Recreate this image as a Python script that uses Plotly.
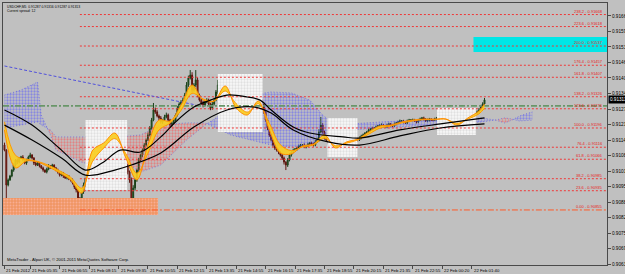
import plotly.graph_objects as go

# ---------------- data ----------------
header_line = "USDCHF,M5  0.91287 0.91316 0.91287 0.91313"
spread_line = "Current spread: 12"
credit_line = "MetaTrader - Alpari UK, \u00a9 2001-2011 MetaQuotes Software Corp."

first_open = 0.91125
closes = [
    0.91104, 0.90959, 0.90980, 0.90996, 0.91021, 0.91042, 0.91063, 0.91054, 0.91071, 0.91075,
    0.91063, 0.91050, 0.91063, 0.91075, 0.91084, 0.91071, 0.91050, 0.91042, 0.91050, 0.91038,
    0.91030, 0.91021, 0.91013, 0.91025, 0.91038, 0.91034, 0.91042, 0.91030, 0.91021, 0.91013,
    0.91000, 0.91009, 0.90996, 0.90988, 0.90996, 0.90984, 0.90980, 0.90967, 0.90950, 0.90938,
    0.90905, 0.90896, 0.90930, 0.90959, 0.90988, 0.91021, 0.91063, 0.91104, 0.91167, 0.91196,
    0.91146, 0.91159, 0.91167, 0.91138, 0.91104, 0.91125, 0.91146, 0.91167, 0.91188, 0.91208,
    0.91179, 0.91146, 0.91125, 0.91104, 0.91084, 0.91063, 0.91042, 0.91013, 0.90980, 0.90896,
    0.90946, 0.90980, 0.91021, 0.91063, 0.91084, 0.91104, 0.91125, 0.91146, 0.91167, 0.91196,
    0.91229, 0.91271, 0.91263, 0.91246, 0.91238, 0.91221, 0.91229, 0.91242, 0.91250, 0.91229,
    0.91208, 0.91217, 0.91229, 0.91250, 0.91279, 0.91296, 0.91304, 0.91312, 0.91333, 0.91375,
    0.91404, 0.91416, 0.91354, 0.91375, 0.91396, 0.91333, 0.91312, 0.91300, 0.91292, 0.91304,
    0.91312, 0.91296, 0.91279, 0.91296, 0.91312, 0.91346, 0.91375, 0.91354, 0.91333, 0.91362,
    0.91387, 0.91396, 0.91362, 0.91333, 0.91304, 0.91271, 0.91263, 0.91250, 0.91238, 0.91221,
    0.91250, 0.91271, 0.91250, 0.91229, 0.91263, 0.91292, 0.91312, 0.91321, 0.91325, 0.91312,
    0.91292, 0.91263, 0.91229, 0.91196, 0.91167, 0.91146, 0.91125, 0.91113, 0.91104, 0.91096,
    0.91084, 0.91071, 0.91054, 0.91042, 0.91063, 0.91084, 0.91096, 0.91104, 0.91109, 0.91113,
    0.91121, 0.91125, 0.91125, 0.91117, 0.91121, 0.91129, 0.91134, 0.91129, 0.91125, 0.91138,
    0.91146, 0.91179, 0.91208, 0.91179, 0.91154, 0.91146, 0.91134, 0.91125, 0.91113, 0.91104,
    0.91109, 0.91113, 0.91121, 0.91125, 0.91134, 0.91142, 0.91146, 0.91142, 0.91146, 0.91150,
    0.91154, 0.91150, 0.91146, 0.91154, 0.91163, 0.91167, 0.91175, 0.91179, 0.91188, 0.91192,
    0.91196, 0.91196, 0.91200, 0.91204, 0.91208, 0.91208, 0.91204, 0.91200, 0.91208, 0.91213,
    0.91208, 0.91204, 0.91213, 0.91217, 0.91221, 0.91225, 0.91225, 0.91221, 0.91217, 0.91225,
    0.91229, 0.91229, 0.91229, 0.91225, 0.91221, 0.91229, 0.91233, 0.91238, 0.91233, 0.91225,
    0.91229, 0.91233, 0.91229, 0.91229, 0.91233, 0.91238, 0.91242, 0.91246, 0.91250, 0.91238,
    0.91229, 0.91221, 0.91208, 0.91196, 0.91188, 0.91204, 0.91221, 0.91229, 0.91238, 0.91233,
    0.91229, 0.91238, 0.91242, 0.91246, 0.91250, 0.91254, 0.91258, 0.91263, 0.91271, 0.91283,
    0.91296, 0.91313,
]
# wick lengths in points (0.00001)
upper_wick_pts = [
    10, 4, 6, 5, 3, 7, 4, 6, 3, 5, 8, 4, 5, 6, 9, 3, 4, 6, 5, 3,
    4, 5, 3, 6, 8, 4, 5, 3, 4, 6, 3, 5, 4, 7, 5, 3, 4, 6, 3, 5,
    6, 3, 8, 10, 7, 9, 12, 8, 10, 25, 8, 12, 6, 5, 9, 10, 7, 6, 8, 13,
    6, 5, 8, 4, 6, 5, 7, 4, 6, 10, 12, 8, 6, 9, 5, 7, 8, 6, 10, 8,
    9, 29, 10, 7, 6, 8, 5, 9, 10, 6, 5, 7, 8, 6, 9, 7, 8, 10, 9, 12,
    10, 21, 12, 8, 41, 10, 6, 5, 9, 7, 8, 6, 5, 9, 10, 8, 21, 9, 6, 10,
    8, 20, 9, 6, 5, 7, 6, 8, 5, 4, 9, 8, 6, 5, 10, 8, 9, 7, 8, 6,
    5, 4, 6, 5, 4, 6, 5, 7, 4, 6, 5, 3, 6, 4, 8, 7, 5, 6, 4, 5,
    6, 5, 4, 7, 5, 6, 4, 5, 6, 8, 10, 12, 34, 8, 6, 5, 4, 6, 5, 7,
    5, 6, 4, 5, 7, 4, 5, 6, 4, 5, 6, 4, 5, 7, 5, 6, 4, 5, 6, 4,
    5, 4, 6, 5, 4, 7, 5, 4, 6, 5, 4, 5, 6, 4, 5, 6, 4, 5, 4, 6,
    5, 4, 6, 5, 4, 5, 6, 4, 5, 4, 6, 5, 4, 5, 6, 4, 5, 6, 8, 5,
    4, 5, 4, 6, 5, 6, 5, 7, 6, 4, 5, 6, 5, 4, 6, 5, 7, 6, 8, 9,
    7, 8,
]
lower_wick_pts = [
    5, 92, 6, 4, 5, 7, 6, 8, 5, 4, 6, 5, 7, 4, 5, 6, 8, 5, 4, 6,
    5, 7, 4, 6, 5, 8, 4, 6, 5, 7, 6, 5, 8, 4, 6, 5, 7, 6, 8, 10,
    12, 41, 10, 8, 9, 7, 10, 6, 8, 5, 9, 7, 6, 10, 8, 6, 5, 7, 6, 5,
    7, 6, 8, 10, 7, 9, 8, 10, 12, 49, 15, 10, 8, 7, 6, 9, 5, 6, 4, 6,
    7, 5, 8, 6, 9, 7, 8, 5, 6, 10, 8, 6, 7, 5, 6, 8, 5, 7, 6, 5,
    8, 6, 10, 7, 8, 9, 6, 8, 10, 7, 5, 8, 9, 7, 6, 5, 8, 6, 7, 5,
    6, 8, 7, 9, 10, 8, 6, 9, 8, 21, 7, 6, 9, 8, 5, 7, 6, 5, 8, 7,
    6, 8, 7, 9, 8, 6, 7, 8, 6, 9, 7, 8, 10, 21, 8, 6, 7, 5, 6, 7,
    5, 6, 7, 5, 6, 4, 7, 5, 6, 5, 4, 6, 5, 7, 6, 5, 7, 6, 5, 6,
    4, 5, 6, 5, 4, 6, 5, 4, 6, 5, 4, 5, 6, 4, 5, 6, 4, 5, 4, 6,
    5, 4, 6, 5, 4, 5, 6, 4, 5, 4, 6, 5, 4, 6, 5, 4, 5, 6, 4, 5,
    4, 6, 5, 4, 6, 5, 4, 5, 6, 4, 5, 6, 4, 5, 4, 6, 5, 4, 6, 5,
    6, 5, 7, 8, 21, 9, 6, 5, 4, 6, 5, 4, 5, 6, 4, 5, 4, 6, 5, 4,
    5, 4,
]

# fast / mid averages forming the yellow ribbon (sampled every 6 bars)
ribbon_bars = [0, 6, 12, 18, 24, 30, 36, 42, 48, 54, 60, 66, 72, 78, 84, 90, 96, 102, 108, 114,
               120, 126, 132, 138, 144, 150, 156, 162, 168, 174, 180, 186, 192, 198, 204, 210,
               216, 222, 228, 234, 240, 246, 252, 258, 261]
ribbon_fast = [0.91188, 0.91030, 0.91059, 0.91054, 0.91034, 0.91009, 0.90980, 0.90925, 0.91104, 0.91134,
               0.91175, 0.91071, 0.90980, 0.91125, 0.91229, 0.91225, 0.91292, 0.91375, 0.91312, 0.91308,
               0.91371, 0.91279, 0.91250, 0.91308, 0.91188, 0.91092, 0.91088, 0.91121, 0.91129, 0.91167,
               0.91113, 0.91138, 0.91150, 0.91179, 0.91204, 0.91208, 0.91221, 0.91229, 0.91233, 0.91233,
               0.91233, 0.91208, 0.91238, 0.91267, 0.91296]
ribbon_mid = [0.91222, 0.91082, 0.91066, 0.91057, 0.91041, 0.91018, 0.90991, 0.90946, 0.91058, 0.91113,
              0.91152, 0.91089, 0.91008, 0.91091, 0.91188, 0.91216, 0.91269, 0.91340, 0.91317, 0.91308,
              0.91350, 0.91297, 0.91262, 0.91297, 0.91216, 0.91126, 0.91102, 0.91117, 0.91125, 0.91153,
              0.91122, 0.91133, 0.91146, 0.91170, 0.91195, 0.91204, 0.91217, 0.91225, 0.91231, 0.91231,
              0.91233, 0.91215, 0.91233, 0.91255, 0.91278]

# two black moving averages
ma1_bars = [0, 15, 31, 44, 53, 63, 74, 85, 93, 103, 112, 121, 132, 139, 145, 157, 166, 184, 193, 215, 237, 261]
ma1_vals = [0.91271, 0.91208, 0.91104, 0.91021, 0.91050, 0.91104, 0.91096, 0.91159, 0.91221, 0.91283, 0.91312,
            0.91333, 0.91325, 0.91312, 0.91271, 0.91200, 0.91175, 0.91159, 0.91154, 0.91188, 0.91213, 0.91238]
ma2_bars = [0, 15, 31, 44, 60, 69, 85, 103, 121, 136, 145, 157, 176, 193, 215, 237, 261]
ma2_vals = [0.91208, 0.91146, 0.91071, 0.91000, 0.91021, 0.91042, 0.91092, 0.91200, 0.91271, 0.91283, 0.91258,
            0.91188, 0.91138, 0.91125, 0.91163, 0.91196, 0.91213]

# Ichimoku cloud spans (projected forward past the last bar)
cloud_bars = [0, 9, 18, 20, 25, 28, 43, 53, 63, 74, 85, 99, 109, 115, 123, 134, 145, 156, 166, 173,
              180, 188, 204, 226, 242, 259, 267, 272, 276, 280, 287]
span_a = [0.91333, 0.91354, 0.91387, 0.91250, 0.91167, 0.91104, 0.91050, 0.91063, 0.91063, 0.91013,
          0.91042, 0.91146, 0.91208, 0.91238, 0.91292, 0.91333, 0.91346, 0.91342, 0.91312, 0.91250,
          0.91208, 0.91213, 0.91221, 0.91229, 0.91238, 0.91238, 0.91229, 0.91217, 0.91229, 0.91246, 0.91263]
span_b = [0.91196, 0.91208, 0.91221, 0.91208, 0.91188, 0.91159, 0.91159, 0.91159, 0.91159, 0.91167,
          0.91208, 0.91217, 0.91217, 0.91196, 0.91167, 0.91146, 0.91125, 0.91117, 0.91125, 0.91154,
          0.91179, 0.91188, 0.91196, 0.91204, 0.91213, 0.91221, 0.91229, 0.91238, 0.91233, 0.91225, 0.91229]

# Fibonacci retracement
fib_start_bar = 41
fib_pcts = ["0.00", "23.6", "38.2", "61.8", "76.4", "100.0", "123.6", "138.2", "161.8", "176.4", "200.0", "223.6", "238.2"]
fib_prices = [0.90855, 0.90935, 0.90985, 0.91066, 0.91116, 0.91196, 0.91276, 0.91326, 0.91407, 0.91457,
              0.91537, 0.91618, 0.91668]

# other chart objects: (start bar, end bar, low price, high price)
session_boxes = [(44, 66.7, 0.90938, 0.91229), (116, 140.4, 0.91179, 0.91421),
                 (175.6, 191.9, 0.91075, 0.91238), (235.2, 256.4, 0.91167, 0.91279)]
orange_box = (-1, 83.5, 0.90834, 0.90905)
cyan_box = (255, 330, 0.91512, 0.91575)
green_level = 0.91288
trend_bars = [0, 104]
trend_prices = [0.91454, 0.91292]

time_tick_bars = [0, 14, 30, 46, 62, 78, 94, 110, 126, 142, 158, 174, 190, 206, 222, 238, 254]
time_tick_labels = ["21 Feb 2012", "21 Feb 05:35", "21 Feb 06:55", "21 Feb 08:15", "21 Feb 09:35",
                    "21 Feb 10:55", "21 Feb 12:15", "21 Feb 13:35", "21 Feb 14:55", "21 Feb 16:15",
                    "21 Feb 17:35", "21 Feb 18:55", "21 Feb 20:15", "21 Feb 21:35", "21 Feb 22:55",
                    "22 Feb 00:20", "22 Feb 01:40"]
price_tick_values = [0.90630, 0.90695, 0.90759, 0.90824, 0.90888, 0.90953, 0.91017, 0.91082, 0.91146,
                     0.91211, 0.91275, 0.91340, 0.91404, 0.91469, 0.91533, 0.91598, 0.91662]

X_RANGE = [-0.8, 327.6]
Y_RANGE = [0.90626, 0.91716]

# ---------------- derived ----------------
opens = [first_open] + closes[:-1]
PT = 0.00001
highs = [max(o, c) + w * PT for o, c, w in zip(opens, closes, upper_wick_pts)]
lows = [min(o, c) - w * PT for o, c, w in zip(opens, closes, lower_wick_pts)]
bars = list(range(len(closes)))

FONT = "Liberation Sans, Arial, sans-serif"
BG = "#c0c0c0"
fig = go.Figure()


def box(b, **kw):
    b0, b1, p0, p1 = b
    return go.Scatter(x=[b0, b1, b1, b0, b0], y=[p0, p0, p1, p1, p0], mode="lines", fill="toself",
                      line=dict(width=0), hoverinfo="skip", showlegend=False, **kw)


fig.add_trace(box(orange_box, fillcolor="rgb(240,150,100)",
                  fillpattern=dict(shape=".", fgcolor="rgb(255,196,196)", bgcolor="rgb(240,150,100)",
                                   size=3, solidity=0.3)))

# cloud segments, split where the spans cross
segs = []
cur = None
for k in range(len(cloud_bars)):
    up = span_a[k] >= span_b[k]
    if cur is None:
        cur = [up, [cloud_bars[k]], [span_a[k]], [span_b[k]]]
        continue
    if up != cur[0]:
        d0 = span_a[k - 1] - span_b[k - 1]
        d1 = span_a[k] - span_b[k]
        t = d0 / (d0 - d1)
        xc = cloud_bars[k - 1] + t * (cloud_bars[k] - cloud_bars[k - 1])
        yc = span_a[k - 1] + t * (span_a[k] - span_a[k - 1])
        cur[1].append(xc); cur[2].append(yc); cur[3].append(yc)
        segs.append(cur)
        cur = [up, [xc, cloud_bars[k]], [yc, span_a[k]], [yc, span_b[k]]]
    else:
        cur[1].append(cloud_bars[k]); cur[2].append(span_a[k]); cur[3].append(span_b[k])
segs.append(cur)
for up, xs, a, b in segs:
    col = "rgb(80,80,255)" if up else "rgb(255,70,70)"
    fig.add_trace(go.Scatter(x=xs + xs[::-1], y=a + b[::-1], mode="lines", fill="toself",
                             line=dict(width=0), hoverinfo="skip", showlegend=False,
                             fillpattern=dict(shape=".", fgcolor=col, bgcolor="rgba(0,0,0,0)",
                                              size=3, solidity=0.45)))
for span in (span_a, span_b):
    fig.add_trace(go.Scatter(x=cloud_bars, y=span, mode="lines",
                             line=dict(color="rgba(80,80,235,0.6)", width=1, dash="1px,2px"),
                             hoverinfo="skip", showlegend=False))

for sb in session_boxes:
    fig.add_trace(box(sb, fillcolor="rgb(240,240,240)",
                      fillpattern=dict(shape=".", fgcolor="rgb(200,200,200)", bgcolor="rgb(248,248,248)",
                                       size=3, solidity=0.45)))

fig.add_trace(box(cyan_box, fillcolor="#00e6e6"))

# fibonacci lines
for pct, lvl in zip(fib_pcts, fib_prices):
    zero = pct == "0.00"
    fig.add_trace(go.Scatter(x=[fib_start_bar, X_RANGE[1]], y=[lvl, lvl], mode="lines",
                             line=dict(color="#ff5a28" if zero else "rgb(240,55,55)", width=1,
                                       dash="6px,2px,2px,2px" if zero else "2px,2px"),
                             hoverinfo="skip", showlegend=False))
    fig.add_annotation(xref="paper", x=1, xanchor="right", xshift=-2, y=lvl, yanchor="bottom", yshift=-1,
                       text=f"{pct} - {lvl:.5f}", showarrow=False,
                       font=dict(family=FONT, size=4.0, color="#e82020"))

# green horizontal line and blue trend line
fig.add_trace(go.Scatter(x=[X_RANGE[0], X_RANGE[1]], y=[green_level, green_level], mode="lines",
                         line=dict(color="rgb(105,150,105)", width=1.6, dash="6px,2px,2px,2px"),
                         hoverinfo="skip", showlegend=False))
fig.add_trace(go.Scatter(x=trend_bars, y=trend_prices, mode="lines",
                         line=dict(color="rgb(80,80,220)", width=1, dash="3px,2px"),
                         hoverinfo="skip", showlegend=False))

# yellow ribbon
fig.add_trace(go.Scatter(x=ribbon_bars, y=ribbon_mid, mode="lines", line=dict(color="#ff9a00", width=1, shape="spline"),
                         hoverinfo="skip", showlegend=False))
fig.add_trace(go.Scatter(x=ribbon_bars, y=ribbon_fast, mode="lines", fill="tonexty", fillcolor="rgba(250,205,30,0.9)",
                         line=dict(color="#ff8c00", width=1, shape="spline"), hoverinfo="skip", showlegend=False))

# candles
fig.add_trace(go.Candlestick(x=bars, open=opens, high=highs, low=lows, close=closes,
                             increasing=dict(line=dict(color="#1a401a", width=1), fillcolor="#2f7a2f"),
                             decreasing=dict(line=dict(color="#5e160f", width=1), fillcolor="#b02a20"),
                             whiskerwidth=0, hoverinfo="skip", showlegend=False))

# black moving averages
fig.add_trace(go.Scatter(x=ma1_bars, y=ma1_vals, mode="lines", line=dict(color="black", width=1.2, shape="spline"),
                         hoverinfo="skip", showlegend=False))
fig.add_trace(go.Scatter(x=ma2_bars, y=ma2_vals, mode="lines", line=dict(color="black", width=1.2, shape="spline"),
                         hoverinfo="skip", showlegend=False))

# texts
fig.add_annotation(xref="paper", yref="paper", x=0, y=1, xanchor="left", yanchor="top", xshift=2, yshift=0,
                   text=header_line, showarrow=False, font=dict(family=FONT, size=3.4, color="black"))
fig.add_annotation(xref="paper", yref="paper", x=0, y=1, xanchor="left", yanchor="top", xshift=2, yshift=-4,
                   text=spread_line, showarrow=False, font=dict(family=FONT, size=3.4, color="black"))
fig.add_annotation(xref="paper", yref="paper", x=0, y=0, xanchor="left", yanchor="bottom", xshift=2, yshift=1,
                   text=credit_line, showarrow=False, font=dict(family=FONT, size=4.2, color="black"))
for b, lab in zip(time_tick_bars, time_tick_labels):
    fig.add_annotation(x=b, xref="x", yref="paper", y=0, xanchor="left", yanchor="top", xshift=0, yshift=-1,
                       text=lab, showarrow=False, font=dict(family=FONT, size=4.3, color="black"))
fig.add_annotation(xref="paper", x=1, xanchor="left", xshift=1, y=closes[-1], yref="y",
                   text=f"{closes[-1]:.5f}", showarrow=False, bgcolor="black", borderpad=1,
                   font=dict(family=FONT, size=4.6, color="white"))

AX = "#4a4a4a"
fig.update_layout(
    width=625, height=274, margin=dict(l=3, r=18, t=3, b=9),
    paper_bgcolor=BG, plot_bgcolor=BG, showlegend=False,
    xaxis=dict(range=X_RANGE, showgrid=False, zeroline=False, showline=True, linecolor=AX, linewidth=1,
               mirror=True, ticks="outside", ticklen=3, tickcolor=AX, tickvals=time_tick_bars,
               showticklabels=False, rangeslider=dict(visible=False), automargin=False, fixedrange=True),
    yaxis=dict(range=Y_RANGE, side="right", showgrid=False, zeroline=False, showline=True, linecolor=AX,
               linewidth=1, mirror=True, ticks="outside", ticklen=3, tickcolor=AX,
               tickvals=price_tick_values, ticktext=[f"{v:.5f}" for v in price_tick_values],
               tickfont=dict(family=FONT, size=4.7, color="black"), automargin=False, fixedrange=True),
    font=dict(family=FONT, size=6),
)
fig.write_html("out.html", config={"displayModeBar": False})
